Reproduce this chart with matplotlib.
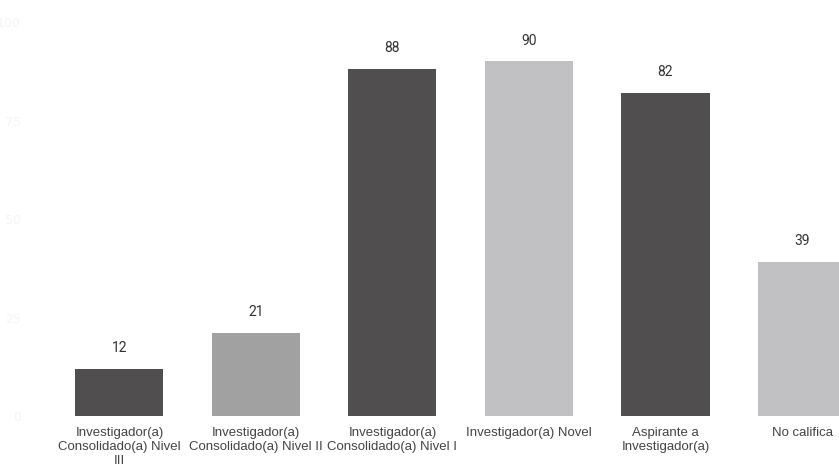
import matplotlib.pyplot as plt

categorias = ['Investigador(a)\nConsolidado(a) Nivel\nIII',
              'Investigador(a)\nConsolidado(a) Nivel II',
              'Investigador(a)\nConsolidado(a) Nivel I',
              'Investigador(a) Novel',
              'Aspirante a\nInvestigador(a)',
              'No califica']
valores = [12, 21, 88, 90, 82, 39]
colores = ['#504e4f', '#a1a1a2', '#504e4f', '#c1c1c3', '#504e4f', '#c1c1c3']
ticks_y = [0, 25, 50, 75, 100]

fig = plt.figure(figsize=(8.39, 4.69), dpi=100)
ax = fig.add_axes([0, 53 / 469, 1, 394 / 469])

x = list(range(len(valores)))
barras = ax.bar(x, valores, width=0.645, color=colores)
for b, v in zip(barras, valores):
    ax.annotate(str(v), (b.get_x() + b.get_width() / 2, v), xytext=(0, 10),
                textcoords='offset points', ha='center', va='bottom',
                fontsize=10, color='#333333', family='Roboto')

ax.set_xlim(-0.875, 5.271)
ax.set_ylim(0, 100)
ax.set_xticks(x)
ax.set_xticklabels(categorias, fontsize=9.5, color='#444444', family='Liberation Sans',
                   linespacing=1.2)
ax.set_yticks(ticks_y)
ax.set_yticklabels([str(t) for t in ticks_y], fontsize=9, color='#f5f5f5')
ax.tick_params(axis='y', length=0, pad=-15)
ax.tick_params(axis='x', length=0, pad=8)
for s in ax.spines.values():
    s.set_visible(False)

fig.savefig('out.png', dpi=100)
